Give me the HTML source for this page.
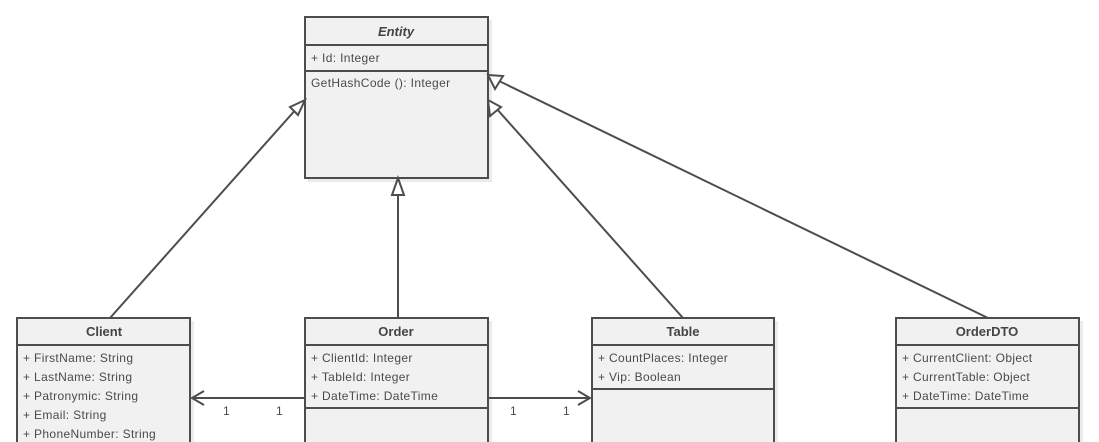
<!DOCTYPE html>
<html><head><meta charset="utf-8"><style>
html,body{margin:0;padding:0;background:#fff;width:1099px;height:442px;overflow:hidden}
svg{display:block}
text{font-family:"Liberation Sans","DejaVu Sans",sans-serif;font-size:12px;letter-spacing:0.35px;fill:#4a4a4a}
.t{font-weight:bold;font-size:13px;letter-spacing:0;fill:#444;text-anchor:middle}
.box{fill:#f1f1f1;stroke:#4d4d4d;stroke-width:2}
.ln{stroke:#4d4d4d;stroke-width:2;fill:none}
.sh{fill:#000;opacity:.08}
</style></head><body>
<svg width="1099" height="442" viewBox="0 0 1099 442">
<rect class="sh" x="308" y="20" width="184" height="162"/>
<rect class="sh" x="20" y="321" width="174" height="130"/>
<rect class="sh" x="308" y="321" width="184" height="130"/>
<rect class="sh" x="595" y="321" width="183" height="130"/>
<rect class="sh" x="899" y="321" width="184" height="130"/>
<line class="ln" x1="110" y1="318" x2="298" y2="107"/>
<line class="ln" x1="398" y1="318" x2="398" y2="195"/>
<line class="ln" x1="683" y1="318" x2="496" y2="108"/>
<line class="ln" x1="988" y1="318" x2="497" y2="80"/>
<line class="ln" x1="305" y1="398" x2="192" y2="398"/>
<line class="ln" x1="488" y1="398" x2="590" y2="398"/>
<polyline class="ln" points="204,391 192,398 204,405"/>
<polyline class="ln" points="578,391 590,398 578,405"/>
<rect class="box" x="305" y="17" width="183" height="161"/>
<line class="ln" x1="305" y1="45" x2="488" y2="45"/>
<line class="ln" x1="305" y1="71" x2="488" y2="71"/>
<text class="t" x="396" y="36" font-style="italic">Entity</text>
<text x="311" y="62">+ Id: Integer</text>
<text x="311" y="87">GetHashCode (): Integer</text>
<polygon points="398,178 392,195 404,195" fill="#fff" stroke="#4d4d4d" stroke-width="2"/>
<polygon points="305,100 290,107 298,115" fill="#fff" stroke="#4d4d4d" stroke-width="2"/>
<polygon points="488,100 490,116 501,107" fill="#fff" stroke="#4d4d4d" stroke-width="2"/>
<polygon points="488,75 495,89 503,76" fill="#fff" stroke="#4d4d4d" stroke-width="2"/>
<rect class="box" x="17" y="318" width="173" height="140"/>
<line class="ln" x1="17" y1="345" x2="190" y2="345"/>
<text class="t" x="104" y="336">Client</text>
<text x="23" y="362">+ FirstName: String</text>
<text x="23" y="381">+ LastName: String</text>
<text x="23" y="400">+ Patronymic: String</text>
<text x="23" y="419">+ Email: String</text>
<text x="23" y="438">+ PhoneNumber: String</text>
<rect class="box" x="305" y="318" width="183" height="140"/>
<line class="ln" x1="305" y1="345" x2="488" y2="345"/>
<line class="ln" x1="305" y1="408" x2="488" y2="408"/>
<text class="t" x="396" y="336">Order</text>
<text x="311" y="362">+ ClientId: Integer</text>
<text x="311" y="381">+ TableId: Integer</text>
<text x="311" y="400">+ DateTime: DateTime</text>
<rect class="box" x="592" y="318" width="182" height="140"/>
<line class="ln" x1="592" y1="345" x2="774" y2="345"/>
<line class="ln" x1="592" y1="389" x2="774" y2="389"/>
<text class="t" x="683" y="336">Table</text>
<text x="598" y="362">+ CountPlaces: Integer</text>
<text x="598" y="381">+ Vip: Boolean</text>
<rect class="box" x="896" y="318" width="183" height="140"/>
<line class="ln" x1="896" y1="345" x2="1079" y2="345"/>
<line class="ln" x1="896" y1="408" x2="1079" y2="408"/>
<text class="t" x="987" y="336">OrderDTO</text>
<text x="902" y="362">+ CurrentClient: Object</text>
<text x="902" y="381">+ CurrentTable: Object</text>
<text x="902" y="400">+ DateTime: DateTime</text>
<text x="223" y="415">1</text>
<text x="276" y="415">1</text>
<text x="510" y="415">1</text>
<text x="563" y="415">1</text>
</svg>
</body></html>
